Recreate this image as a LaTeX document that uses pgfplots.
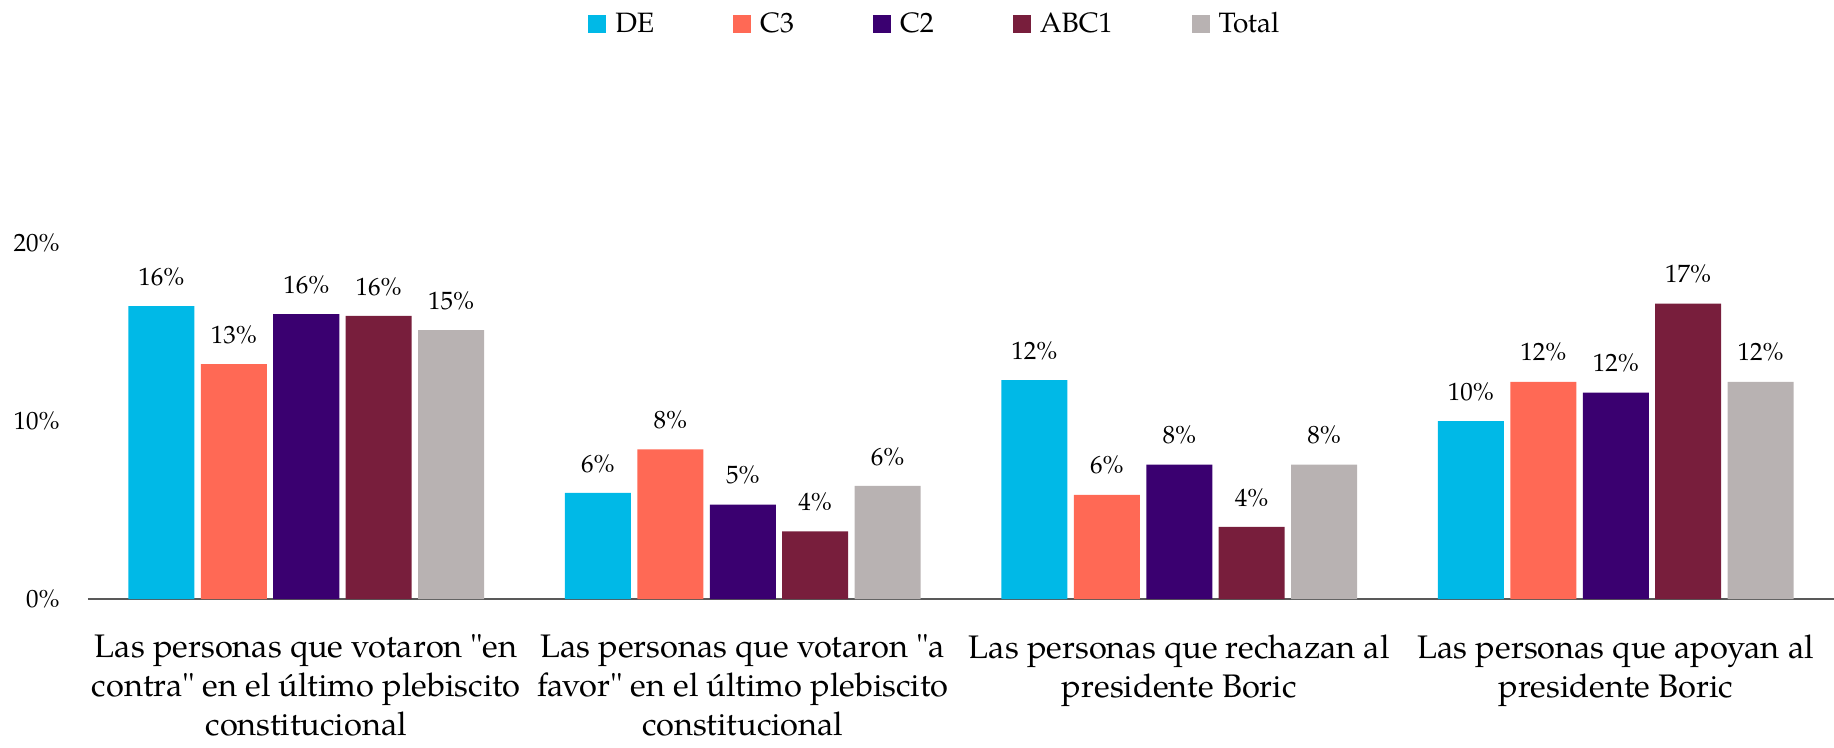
\documentclass[border=0pt]{standalone}
\usepackage{pgfplots}
\pgfplotsset{compat=1.18}
\usepackage{fontspec}
\setmainfont{TeX Gyre Pagella}
\definecolor{cDE}{RGB}{0,185,231}
\definecolor{cCt}{RGB}{255,105,85}
\definecolor{cCd}{RGB}{58,0,112}
\definecolor{cABC}{RGB}{120,30,60}
\definecolor{cTot}{RGB}{184,178,178}
\definecolor{axgray}{RGB}{89,89,89}
\pgfplotsset{
  sq/.style={fill=#1, draw=none,
    legend image code/.code={\fill[#1] (0bp,-4.5bp) rectangle (9bp,4.5bp);}},
}
\newcommand{\q}{\textquotedbl}
\begin{document}
\begin{tikzpicture}
\begin{axis}[
  scale only axis, width=873bp, height=178bp,
  xmin=-0.5, xmax=3.5, ymin=0, ymax=20,
  ybar=3.2bp, bar width=33bp,
  axis line style={draw=none},
  major tick length=0pt,
  /pgf/number format/assume math mode=true,
  ytick={0,10,20},
  yticklabels={0\%,10\%,20\%},
  yticklabel style={font={\fontsize{12.5bp}{15bp}\selectfont}, anchor=east, inner sep=0pt, xshift=-14bp},
  extra y ticks={0},
  extra y tick labels={},
  extra y tick style={grid=major, major grid style={draw=axgray, line width=1bp}},
  xtick={0,1,2,3},
  xticklabels={
    {Las personas que votaron \q en\\contra\q{} en el último plebiscito\\constitucional},
    {Las personas que votaron \q a\\favor\q{} en el último plebiscito\\constitucional},
    {Las personas que rechazan al\\presidente Boric},
    {Las personas que apoyan al\\presidente Boric}},
  xticklabel style={font={\fontsize{16.3bp}{19.5bp}\selectfont}, align=center, anchor=north, inner sep=0pt, yshift=-17.5bp},
  nodes near coords={\pgfmathprintnumber[fixed,precision=0]{\pgfplotspointmeta}\%},
  every node near coord/.append style={font={\fontsize{12.5bp}{15bp}\selectfont}, anchor=south, inner sep=0pt, yshift=10bp, text=black},
  clip=false,
  legend columns=-1,
  legend style={at={(axis description cs:0.487,1.615)}, anchor=center, draw=none, fill=none,
    font={\fontsize{14bp}{17bp}\selectfont},
    nodes={inner xsep=4.5bp},
    /tikz/every even column/.append style={column sep=35bp}},
]
\addplot[sq=cDE] coordinates {(0,16.45) (1,5.96) (2,12.3) (3,10.0)};
\addlegendentry{DE}
\addplot[sq=cCt] coordinates {(0,13.2) (1,8.4) (2,5.85) (3,12.2)};
\addlegendentry{C3}
\addplot[sq=cCd] coordinates {(0,16.0) (1,5.3) (2,7.55) (3,11.6)};
\addlegendentry{C2}
\addplot[sq=cABC] coordinates {(0,15.9) (1,3.8) (2,4.05) (3,16.6)};
\addlegendentry{ABC1}
\addplot[sq=cTot] coordinates {(0,15.1) (1,6.35) (2,7.55) (3,12.2)};
\addlegendentry{Total}
\end{axis}
\pgfresetboundingbox
\path[use as bounding box] (-44bp,-74.5bp) rectangle (873bp,299.5bp);
\end{tikzpicture}
\end{document}
